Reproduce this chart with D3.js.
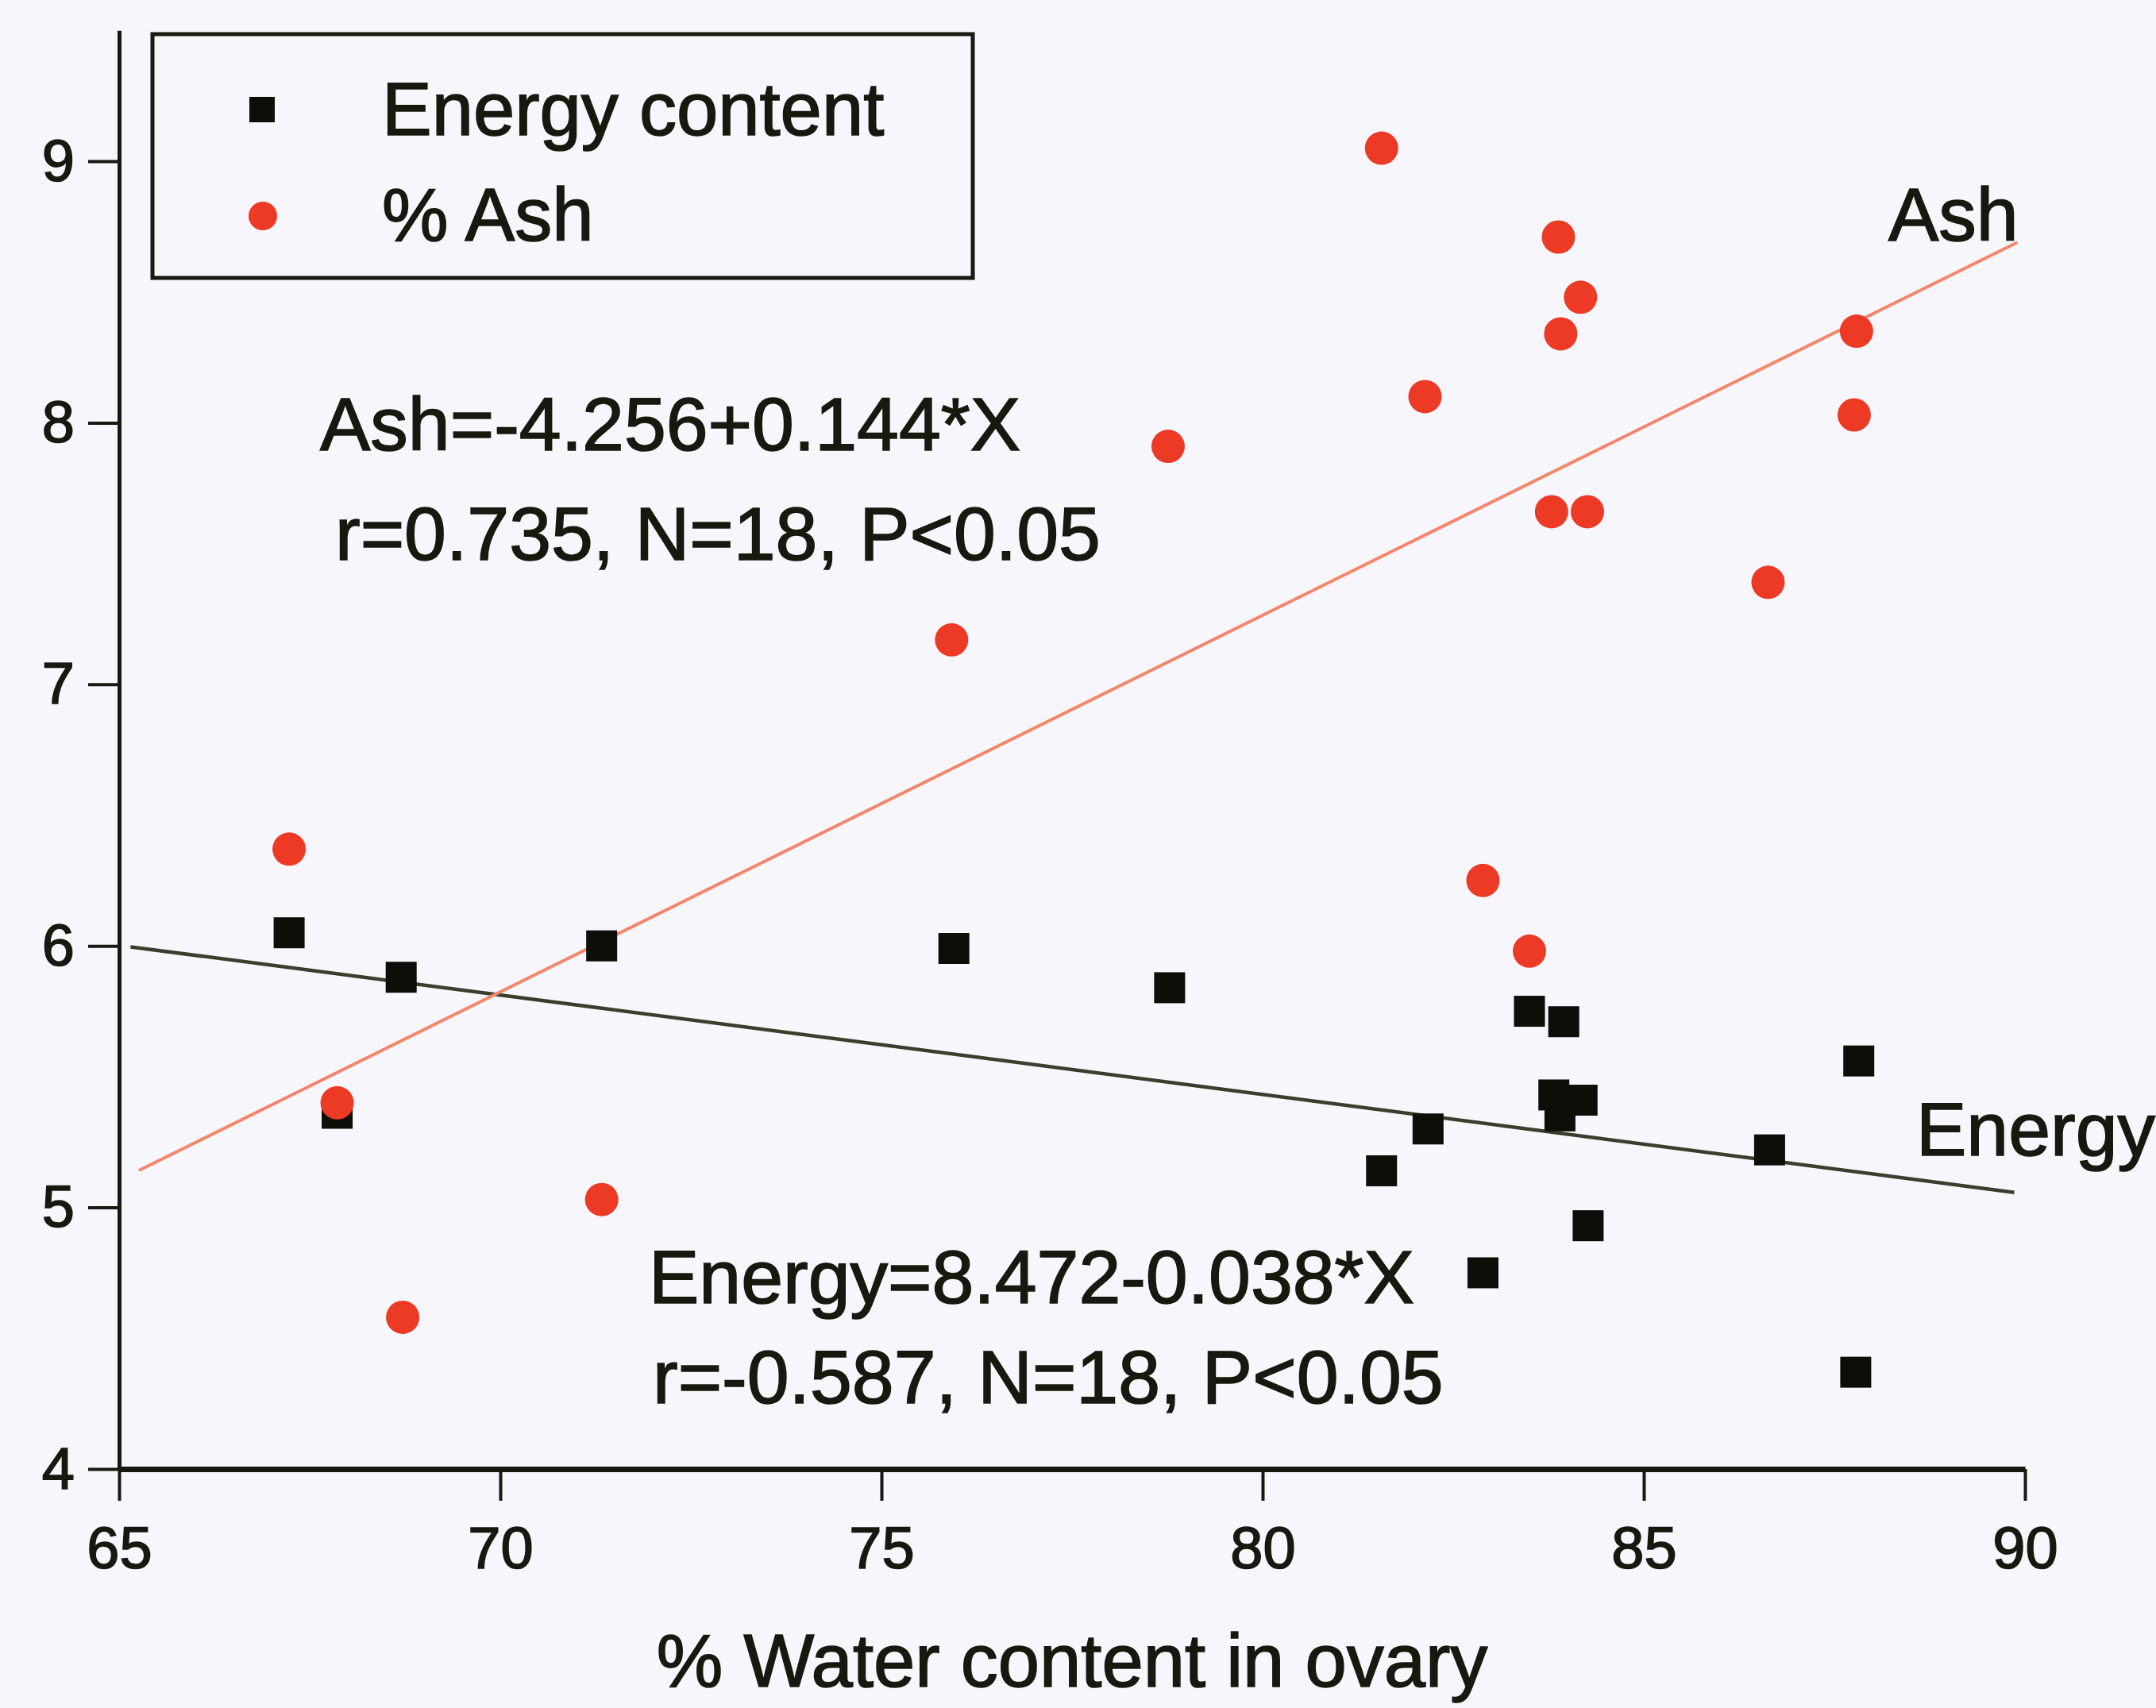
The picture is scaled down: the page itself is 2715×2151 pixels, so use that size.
<!DOCTYPE html>
<html>
<head>
<meta charset="utf-8">
<script src="https://cdn.jsdelivr.net/npm/d3@7/dist/d3.min.js"></script>
<style>
  html, body { margin: 0; padding: 0; background: #f6f6fc; }
  svg { display: block; }
  text {
    font-family: "Liberation Sans", Arial, Helvetica, sans-serif;
    fill: #17190f;
    stroke: #17190f;
    stroke-width: 1.6px;
  }
</style>
</head>
<body>
<svg id="chart" width="2715" height="2151"></svg>
<script>
// Energy content (kJ/g) against % water content in the ovary
const energyWater = [67.23, 67.86, 68.70, 71.33, 75.95, 78.78, 81.56, 82.17, 82.89, 83.50, 83.95, 83.82, 83.90, 84.19, 84.27, 86.65, 87.78, 87.82];
const energyValue = [6.05, 5.36, 5.88, 6.00, 5.99, 5.84, 5.14, 5.30, 4.75, 5.75, 5.71, 5.43, 5.35, 5.41, 4.93, 5.22, 4.37, 5.56];

// % Ash against % water content in the ovary
const ashWater = [67.23, 67.86, 68.72, 71.33, 75.92, 78.76, 81.56, 82.13, 82.89, 83.50, 83.88, 83.91, 84.17, 83.79, 84.26, 86.63, 87.76, 87.79];
const ashValue = [6.37, 5.40, 4.58, 5.03, 7.17, 7.91, 9.05, 8.10, 6.25, 5.98, 8.71, 8.34, 8.48, 7.66, 7.66, 7.39, 8.03, 8.35];

// Fitted regressions: intercept, slope, and x-range of each fitted line
const ashFit = { a: -4.256, b: 0.144, from: 65.26, to: 89.9 };
const energyFit = { a: 8.472, b: -0.038, from: 65.15, to: 89.86 };

const xMajorTicks = [65, 70, 75, 80, 85, 90];
const xMinorTicks = [67.5, 72.5, 77.5, 82.5, 87.5];
const yMajorTicks = [4, 5, 6, 7, 8, 9];
const yMinorTicks = [4.5, 5.5, 6.5, 7.5, 8.5, 9.5];

const legendLabels = ["Energy content", "% Ash"];
const ashEquation = ["Ash=-4.256+0.144*X", "r=0.735, N=18, P<0.05"];
const energyEquation = ["Energy=8.472-0.038*X", "r=-0.587, N=18, P<0.05"];
const xTitle = "% Water content in ovary";

const ink = "#17190f";
const red = "#ec3a24";

const svg = d3.select("#chart");

const x = d3.scaleLinear().domain([65, 90]).range([150, 2550]);
const y = d3.scaleLinear().domain([4, 9.5]).range([1850, 38.3]);

// ---- axes ----
const xAxisG = svg.append("g").attr("transform", `translate(0,${y(4)})`);
xAxisG.call(d3.axisBottom(x).tickValues(xMinorTicks).tickSize(22).tickSizeOuter(0).tickFormat(""));
xAxisG.call(d3.axisBottom(x).tickValues(xMajorTicks).tickSize(40).tickSizeOuter(0).tickFormat(d3.format("d")));
xAxisG.selectAll("path.domain").attr("stroke", ink).attr("stroke-width", 7);
xAxisG.selectAll(".tick line").attr("stroke", ink).attr("stroke-width", 4);
xAxisG.selectAll(".tick text")
  .attr("y", 125).attr("dy", 0)
  .style("font-size", "74px").attr("fill", ink);

const yAxisG = svg.append("g").attr("transform", `translate(${x(65)},0)`);
yAxisG.call(d3.axisLeft(y).tickValues(yMinorTicks).tickSize(22).tickSizeOuter(0).tickFormat(""));
yAxisG.call(d3.axisLeft(y).tickValues(yMajorTicks).tickSize(39).tickSizeOuter(0).tickFormat(d3.format("d")));
yAxisG.selectAll("path.domain").attr("stroke", ink).attr("stroke-width", 5);
yAxisG.selectAll(".tick line").attr("stroke", ink).attr("stroke-width", 4);
yAxisG.selectAll(".tick text")
  .attr("x", -56).attr("dy", 0).attr("y", 24)
  .style("font-size", "74px").attr("fill", ink);

// ---- regression lines ----
function fitLine(fit) {
  return [fit.from, fit.to].map(v => [x(v), y(fit.a + fit.b * v)]);
}
const line = d3.line();
svg.append("path")
  .attr("d", line(fitLine(energyFit)))
  .attr("fill", "none").attr("stroke", "#3a3f2c").attr("stroke-width", 4.5);
svg.append("path")
  .attr("d", line(fitLine(ashFit)))
  .attr("fill", "none").attr("stroke", "#f3876d").attr("stroke-width", 4);

// ---- points ----
const sq = 39;
svg.append("g").selectAll("rect")
  .data(d3.zip(energyWater, energyValue))
  .join("rect")
  .attr("x", d => x(d[0]) - sq / 2)
  .attr("y", d => y(d[1]) - sq / 2)
  .attr("width", sq).attr("height", sq)
  .attr("fill", "#0c0f08");

svg.append("g").selectAll("circle")
  .data(d3.zip(ashWater, ashValue))
  .join("circle")
  .attr("cx", d => x(d[0]))
  .attr("cy", d => y(d[1]))
  .attr("r", 21)
  .attr("fill", red);

// ---- legend ----
const legend = svg.append("g");
legend.append("rect")
  .attr("x", 192).attr("y", 43).attr("width", 1033).attr("height", 307)
  .attr("fill", "none").attr("stroke", ink).attr("stroke-width", 5);
legend.append("rect")
  .attr("x", 314).attr("y", 122).attr("width", 32).attr("height", 32)
  .attr("fill", "#0c0f08");
legend.append("circle")
  .attr("cx", 331).attr("cy", 272).attr("r", 18)
  .attr("fill", red);
legend.selectAll("text.leg")
  .data(legendLabels)
  .join("text")
  .attr("class", "leg")
  .attr("x", 481)
  .attr("y", (d, i) => 170 + i * 133)
  .style("font-size", "94px")
  .text(d => d);

// ---- annotations ----
function block(lines, xs, ys) {
  svg.append("g").selectAll("text")
    .data(lines)
    .join("text")
    .attr("x", (d, i) => xs[i])
    .attr("y", (d, i) => ys[i])
    .style("font-size", "95px")
    .text(d => d);
}
block(ashEquation, [403, 422], [567, 705]);
block(energyEquation, [817, 822], [1641, 1767]);

svg.append("text").attr("x", 2378).attr("y", 303).style("font-size", "95px").text("Ash");
svg.append("text").attr("x", 2413).attr("y", 1455).style("font-size", "95px").text("Energy");

// ---- axis title ----
svg.append("text")
  .attr("x", (x(65) + x(90)) / 2)
  .attr("y", 2124)
  .attr("text-anchor", "middle")
  .style("font-size", "94px")
  .text(xTitle);
</script>
</body>
</html>
